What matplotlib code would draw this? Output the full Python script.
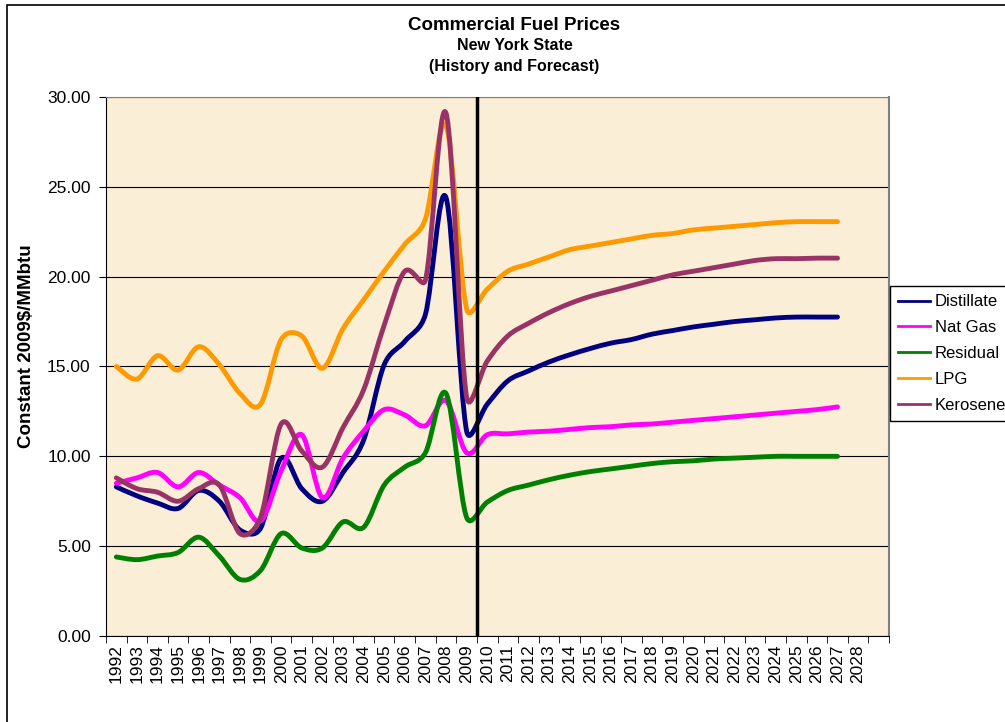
import numpy as np
from matplotlib import pyplot as plt
from matplotlib.path import Path
from matplotlib.patches import PathPatch, Rectangle
from matplotlib.lines import Line2D

plt.rcParams['font.family'] = ['Liberation Sans', 'DejaVu Sans']

# Years on the category axis (last slot left empty, as in the source)
years = [str(y) for y in range(1992, 2029)] + ['']

# Prices, constant 2009$/MMbtu, 1992-2027
distillate = [8.3, 7.8, 7.4, 7.1, 8.1, 7.5, 5.9, 6.0, 9.9, 8.2, 7.5, 9.1, 10.9, 15.1, 16.4, 17.9, 24.4, 11.4,
              12.9, 14.2, 14.75, 15.25, 15.65, 16.0, 16.3, 16.5, 16.8, 17.0, 17.2, 17.35, 17.5, 17.6, 17.7,
              17.75, 17.75, 17.75]
nat_gas = [8.5, 8.8, 9.1, 8.3, 9.1, 8.4, 7.7, 6.4, 9.2, 11.2, 7.7, 9.9, 11.4, 12.6, 12.3, 11.7, 13.1, 10.2,
           11.2, 11.25, 11.35, 11.4, 11.5, 11.6, 11.65, 11.75, 11.8, 11.9, 12.0, 12.1, 12.2, 12.3, 12.4,
           12.5, 12.6, 12.75]
residual = [4.4, 4.25, 4.45, 4.65, 5.5, 4.45, 3.15, 3.65, 5.7, 4.9, 4.9, 6.35, 6.05, 8.4, 9.4, 10.2, 13.5, 6.6,
            7.45, 8.1, 8.4, 8.7, 8.95, 9.15, 9.3, 9.45, 9.6, 9.7, 9.75, 9.85, 9.9, 9.95, 10.0,
            10.0, 10.0, 10.0]
lpg = [15.0, 14.3, 15.6, 14.8, 16.1, 15.1, 13.5, 12.9, 16.5, 16.7, 14.9, 17.1, 18.7, 20.3, 21.8, 23.2, 28.4, 18.2,
       19.3, 20.3, 20.7, 21.1, 21.5, 21.7, 21.9, 22.1, 22.3, 22.4, 22.6, 22.7, 22.8, 22.9, 23.0,
       23.06, 23.06, 23.06]
kerosene = [8.8, 8.2, 8.0, 7.5, 8.2, 8.4, 5.7, 6.6, 11.8, 10.3, 9.4, 11.6, 13.7, 17.3, 20.3, 19.8, 29.1, 13.3,
            15.3, 16.7, 17.4, 18.0, 18.5, 18.9, 19.2, 19.5, 19.8, 20.1, 20.3, 20.5, 20.7, 20.9, 21.0,
            21.0, 21.03, 21.03]

series = [
    ('Distillate', distillate, '#000080'),
    ('Nat Gas', nat_gas, '#FF00FF'),
    ('Residual', residual, '#008000'),
    ('LPG', lpg, '#FF9900'),
    ('Kerosene', kerosene, '#993366'),
]


# Excel-style smoothed line: Bezier segments through every point,
# control arms limited to half of the segment they sit on
def smooth_path(ax, x, y):
    pts = ax.transData.transform(np.column_stack([x, y]))
    n = len(pts)
    verts = [pts[0]]
    codes = [Path.MOVETO]

    def arm(prev, nxt, seg):
        t = (nxt - prev) / 6.0
        lim = np.hypot(*seg) / 2.0
        m = np.hypot(*t)
        if m > lim and m > 0:
            t = t * lim / m
        return t

    for i in range(n - 1):
        p0 = pts[i - 1] if i > 0 else pts[i]
        p1, p2 = pts[i], pts[i + 1]
        p3 = pts[i + 2] if i + 2 < n else pts[i + 1]
        c1 = p1 + arm(p0, p2, p2 - p1)
        c2 = p2 - arm(p1, p3, p2 - p1)
        verts += [c1, c2, p2]
        codes += [Path.CURVE4] * 3
    verts = ax.transData.inverted().transform(np.array(verts))
    return Path(verts, codes)


fig = plt.figure(dpi=100, figsize=(10.05, 7.22))
ax = fig.add_axes([0.1055, 0.1191, 0.7791, 0.7466])
ax.set_facecolor('#FAEED6')
ax.set_xlim(-0.5, len(years) - 0.5)
ax.set_ylim(0, 30)

# outer chart border (right and bottom fall outside the picture)
fig.patches.append(Rectangle((7 / 1005, -0.05), 1.1, (722 - 5) / 722 + 0.05, transform=fig.transFigure,
                             fill=False, edgecolor='black', linewidth=1.2))

handles = []
for name, vals, color in series:
    xs = np.arange(len(vals))
    ax.add_patch(PathPatch(smooth_path(ax, xs, vals), fill=False, edgecolor=color, linewidth=3.5,
                           capstyle='round', joinstyle='round', zorder=3))
    handles.append(Line2D([], [], color=color, linewidth=2, label=name))

# history / forecast divider
ax.axvline(17.5, color='black', linewidth=2.5, zorder=4)

ax.set_yticks(np.arange(0, 31, 5))
ax.set_yticklabels(['%.2f' % v for v in np.arange(0, 31, 5)], fontsize=12.5)
ax.yaxis.grid(True, color='black', linewidth=0.8)
ax.set_axisbelow(True)

ax.set_xticks(np.arange(len(years)))
ax.set_xticklabels(years, rotation=90, fontsize=12.5)
ax.set_xticks(np.arange(len(years) + 1) - 0.5, minor=True)
ax.tick_params(axis='x', which='major', length=0, pad=6)
ax.tick_params(axis='x', which='minor', length=5, direction='out')
ax.tick_params(axis='y', length=5, direction='out', pad=6)

for s in ['top', 'right']:
    ax.spines[s].set_color('#808080')
ax.spines['right'].set_linewidth(1.5)

ax.set_ylabel('Constant 2009$/MMbtu', fontsize=13.5, fontweight='bold')
ax.yaxis.set_label_coords(-0.091, 0.538)

fig.text(0.512, 0.965, 'Commercial Fuel Prices', ha='center', va='center', fontsize=13.5, fontweight='bold')
fig.text(0.512, 0.937, 'New York State', ha='center', va='center', fontsize=11.5, fontweight='bold')
fig.text(0.512, 0.908, '(History and Forecast)', ha='center', va='center', fontsize=11.5, fontweight='bold')

leg = fig.legend(handles=handles, loc='upper left', bbox_to_anchor=(890 / 1005, 1 - 286 / 722),
                 borderaxespad=0, fontsize=12, frameon=True, fancybox=False, edgecolor='black',
                 framealpha=1, handlelength=1.9, handletextpad=0.3, labelspacing=0.65, borderpad=0.5)
leg.get_frame().set_linewidth(1)

plt.savefig('out.png', dpi=100)
